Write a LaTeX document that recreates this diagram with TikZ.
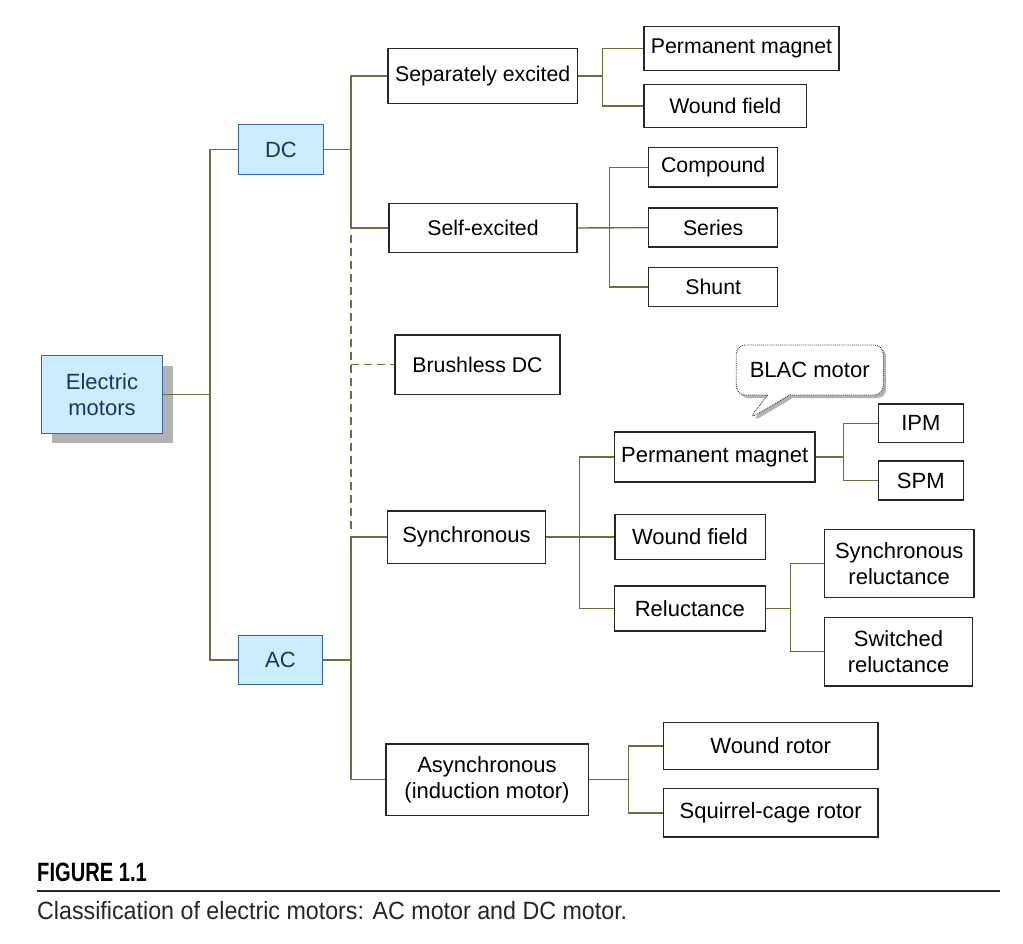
\documentclass[tikz,border=0pt]{standalone}
\usepackage{fontspec}
\setmainfont{Liberation Sans}
\newfontfamily\capbold[FakeStretch=0.76]{Liberation Sans}
\newfontfamily\captext[FakeStretch=0.93]{Liberation Sans}
\usetikzlibrary{shapes.callouts,shadows}
\definecolor{lineg}{RGB}{98,116,58}
\definecolor{bluef}{RGB}{204,236,255}
\definecolor{blueb}{RGB}{52,100,170}
\definecolor{bluet}{RGB}{30,52,90}
\definecolor{shadowg}{RGB}{178,178,178}
\tikzset{
  conn/.style={draw=lineg, line width=1.4pt},
  dashconn/.style={conn, dash pattern=on 8pt off 5pt},
  box/.style={draw=black!85, line width=1.3pt, fill=white, inner sep=0pt, align=center,
    font=\fontsize{22}{26}\selectfont},
  boxu/.style={box, font=\fontsize{21.3}{26}\selectfont},
  bluebox/.style={draw=blueb, fill=bluef, text=bluet, line width=1.3pt, inner sep=0pt,
    align=center, font=\fontsize{22}{26}\selectfont}
}
\begin{document}
\begin{tikzpicture}[x=1pt,y=-1pt]
\useasboundingbox (0,0) rectangle (1023,943);
\fill[white] (0,0) rectangle (1023,943);

% level 0 and 1
\node[bluebox, minimum width=120.6pt, minimum height=77.6pt,
  drop shadow={shadow xshift=10.5pt, shadow yshift=-10pt, fill=shadowg, opacity=1}]
  (em) at (102,394.5) {Electric\\motors};
\node[bluebox, minimum width=84.6pt, minimum height=49.6pt] (dc) at (281,149.5) {DC};
\node[bluebox, minimum width=84.4pt, minimum height=49.4pt] (ac) at (280.5,660) {AC};

% level 2
\node[boxu, minimum width=189.3pt, minimum height=55.4pt] (sep) at (482.7,76) {Separately excited};
\node[boxu, minimum width=188pt, minimum height=49.4pt] (self) at (483,228) {Self-excited};
\node[boxu, minimum width=165pt, minimum height=59.3pt] (bdc) at (477.5,364.7) {Brushless DC};
\node[box, minimum width=158.4pt, minimum height=52.3pt] (sync) at (466.5,537) {Synchronous};
\node[box, minimum width=202.3pt, minimum height=71.3pt] (async) at (487,779.7) {Asynchronous\\(induction motor)};

% level 3
\node[boxu, minimum width=195pt, minimum height=44pt] (pm1) at (741.5,48.3) {Permanent magnet};
\node[boxu, minimum width=162.7pt, minimum height=43.4pt] (wf1) at (725.3,106) {Wound field};
\node[boxu, minimum width=129pt, minimum height=39.3pt] (comp) at (713.2,167.3) {Compound};
\node[boxu, minimum width=129pt, minimum height=39pt] (series) at (713.2,227.6) {Series};
\node[boxu, minimum width=129pt, minimum height=39.4pt] (shunt) at (713.2,287) {Shunt};
\node[box, minimum width=200.7pt, minimum height=50pt] (pm2) at (714.7,457) {Permanent magnet};
\node[box, minimum width=150.3pt, minimum height=45pt] (wf2) at (690,537) {Wound field};
\node[box, minimum width=151pt, minimum height=45pt] (rel) at (689.8,608.5) {Reluctance};
\node[box, minimum width=214.7pt, minimum height=47.4pt] (wr) at (770.7,746) {Wound rotor};
\node[box, minimum width=214.7pt, minimum height=48.3pt] (sc) at (770.7,812.8) {Squirrel-cage rotor};

% level 4
\node[box, minimum width=85pt, minimum height=38.7pt] (ipm) at (920.8,423.3) {IPM};
\node[box, minimum width=85pt, minimum height=39pt] (spm) at (920.8,480.5) {SPM};
\node[box, minimum width=149.7pt, minimum height=68.4pt] (sr) at (899.2,563.5) {Synchronous\\reluctance};
\node[box, minimum width=148.4pt, minimum height=68.4pt] (swr) at (898.5,651.7) {Switched\\reluctance};

% callout
\node[rectangle callout, draw=black!80, densely dotted, line width=0.9pt, fill=white,
  rounded corners=9pt, minimum width=147pt, minimum height=50pt, inner sep=0pt,
  callout absolute pointer={(749,419)}, callout pointer width=22pt,
  font=\fontsize{22}{26}\selectfont,
  drop shadow={shadow xshift=3pt, shadow yshift=-3pt, fill=shadowg, opacity=1}]
  (blac) at (809.7,370) {BLAC motor};

% branch coordinates
\coordinate (b0) at (210,0);
\coordinate (b1) at (351,0);
\coordinate (b2) at (602.7,0);
\coordinate (b3) at (609.3,0);
\coordinate (b4) at (579.3,0);
\coordinate (b5) at (843.3,0);
\coordinate (b6) at (790.7,0);
\coordinate (b7) at (628.3,0);

% connectors
\draw[conn] (em.east) -- (em.east -| b0);
\draw[conn] (dc.west) -| (b0 |- ac.west) -- (ac.west);

\draw[conn] (dc.east) -- (dc.east -| b1);
\draw[conn] (sep.west) -| (b1 |- self.west) -- (self.west);
\draw[dashconn] ([yshift=-7pt]b1 |- self.west) -- ([yshift=3pt]b1 |- sync.west);
\draw[dashconn] (b1 |- bdc.west) -- (bdc.west);
\draw[conn] (ac.east) -- (ac.east -| b1);
\draw[conn] (sync.west) -| (b1 |- async.west) -- (async.west);

\draw[conn] (sep.east) -- (sep.east -| b2);
\draw[conn] (pm1.west) -| (b2 |- wf1.west) -- (wf1.west);

\draw[conn] (self.east) -- (series.west);
\draw[conn] (comp.west) -| (b3 |- shunt.west) -- (shunt.west);

\draw[conn] (sync.east) -- (wf2.west);
\draw[conn] (pm2.west) -| (b4 |- rel.west) -- (rel.west);

\draw[conn] (pm2.east) -- (pm2.east -| b5);
\draw[conn] (ipm.west) -| (b5 |- spm.west) -- (spm.west);

\draw[conn] (rel.east) -- (rel.east -| b6);
\draw[conn] (sr.west) -| (b6 |- swr.west) -- (swr.west);

\draw[conn] (async.east) -- (async.east -| b7);
\draw[conn] (wr.west) -| (b7 |- sc.west) -- (sc.west);

% caption
\node[anchor=base west, inner sep=0pt, font=\capbold\bfseries\fontsize{26.5}{30}\selectfont]
  (figlab) at (37,881) {FIGURE 1.1};
\coordinate (rulel) at (37,891);
\coordinate (ruler) at (1000,891);
\draw[black!85, line width=1.6pt] (rulel) -- (ruler);
\node[anchor=base west, inner sep=0pt, text=black!85, font=\captext\fontsize{25}{30}\selectfont]
  (cap) at (37,919) {Classification of electric motors: AC motor and DC motor.};
\end{tikzpicture}
\end{document}
